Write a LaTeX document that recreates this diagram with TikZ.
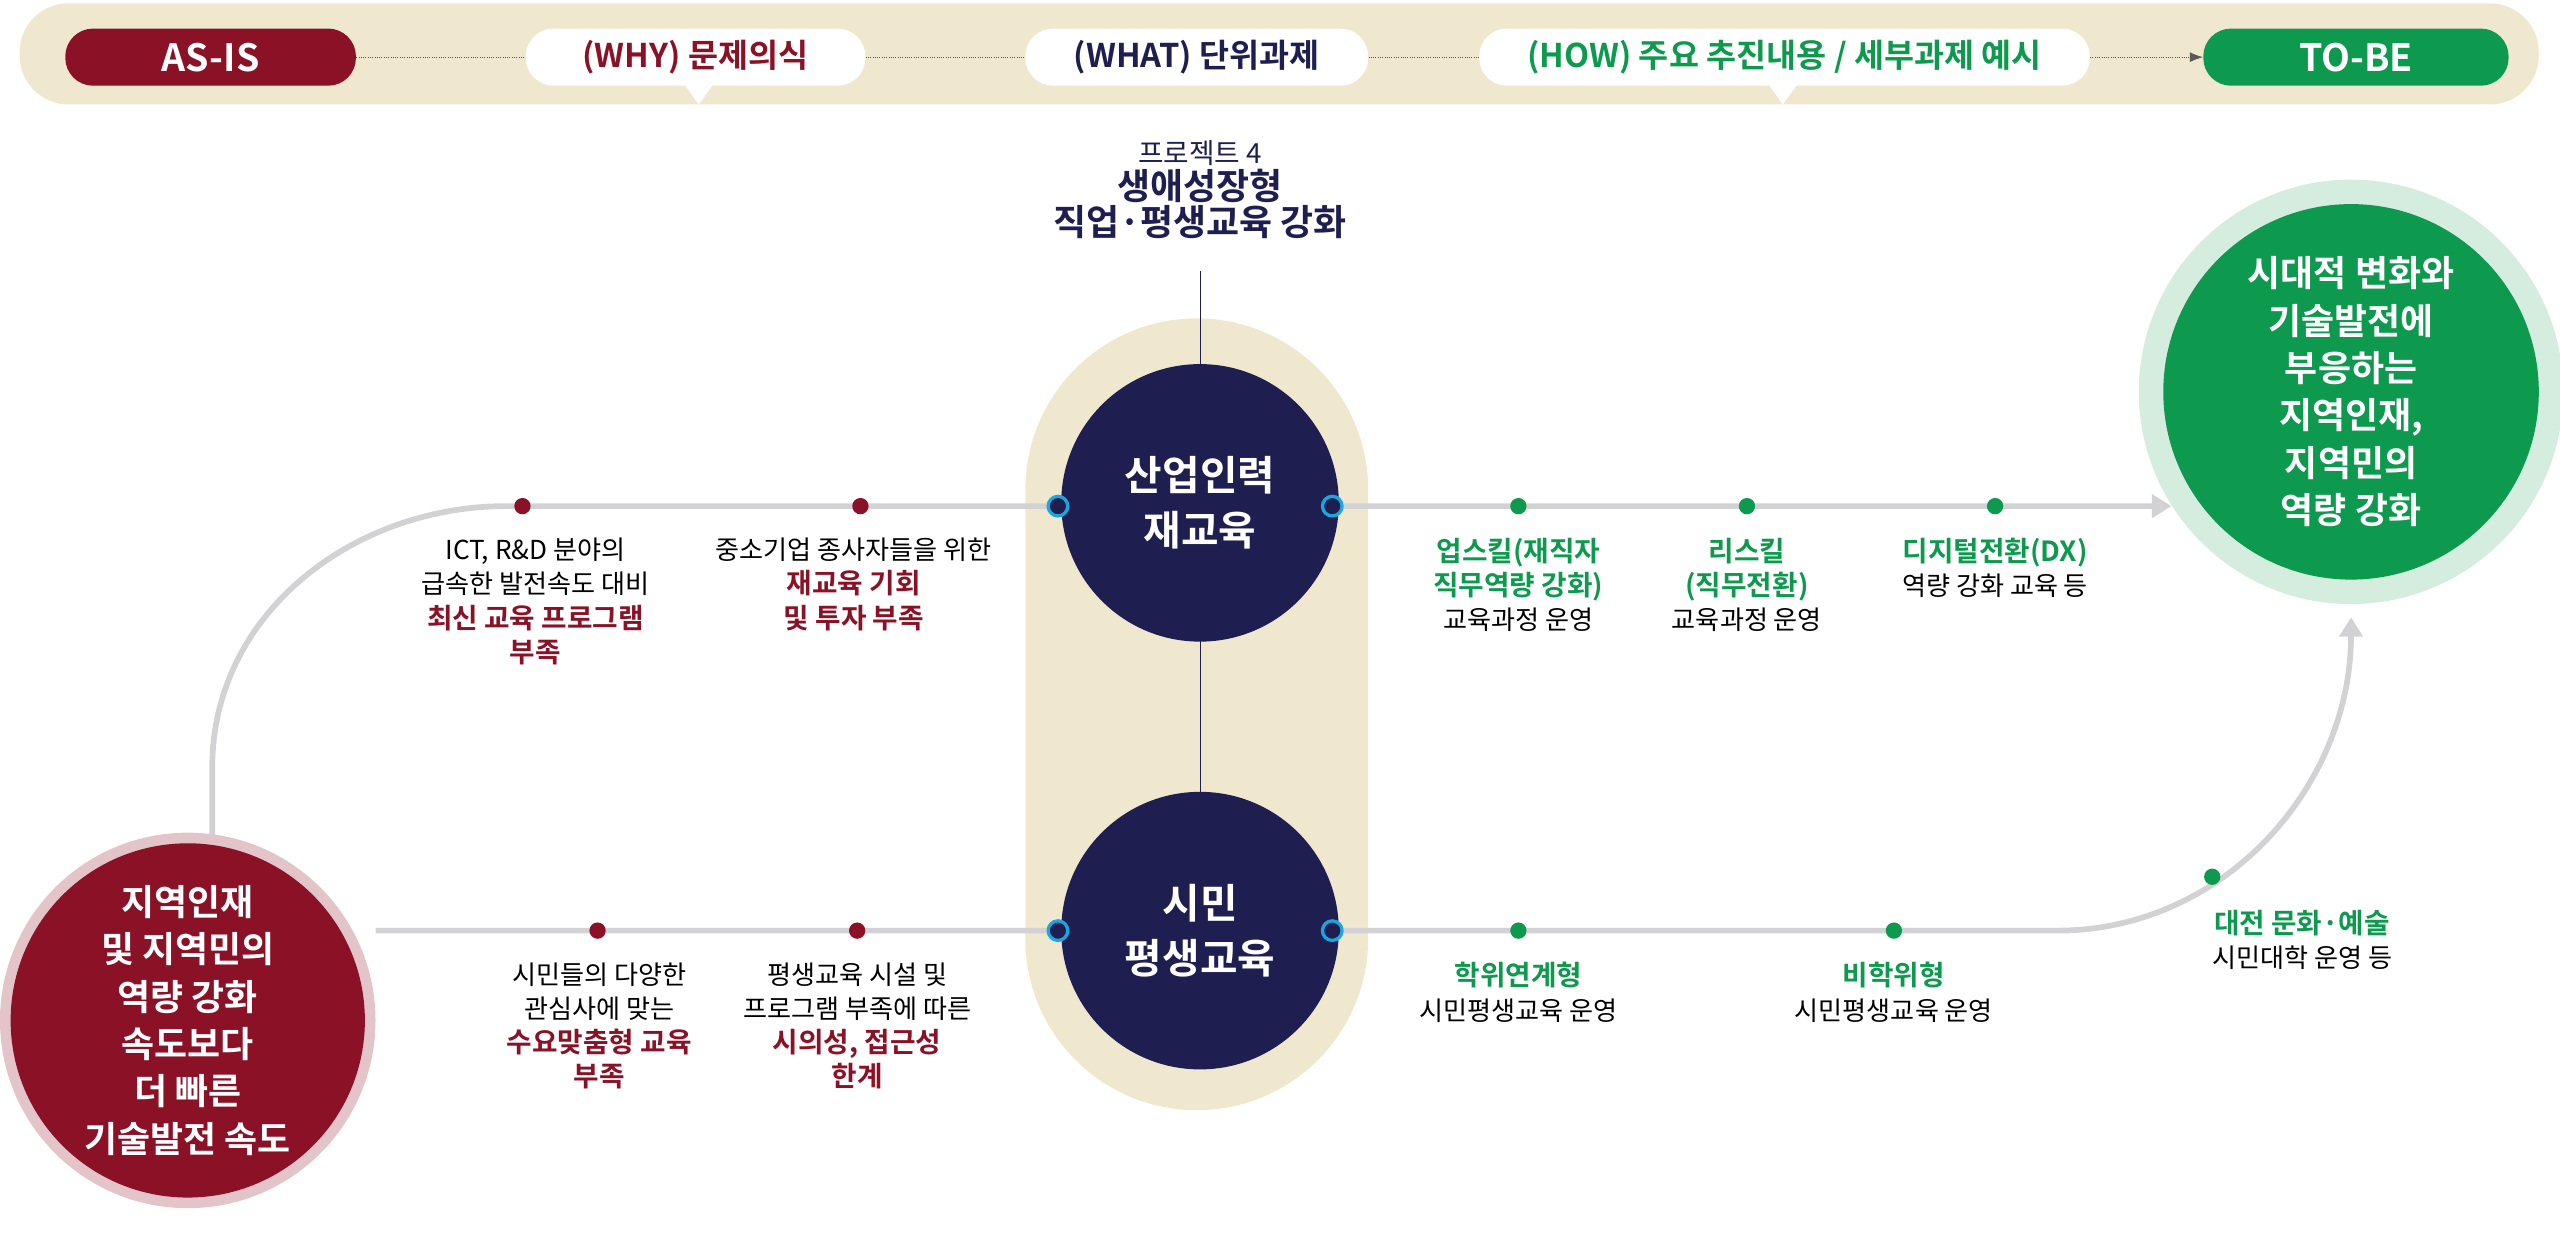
\documentclass[tikz,border=0pt]{standalone}
\usepackage{fontspec}
\setmainfont{Noto Sans CJK KR}
\newfontfamily\bfk{Noto Sans CJK KR Bold}
\usetikzlibrary{arrows.meta}
\definecolor{beige}{HTML}{EFE8CF}
\definecolor{dred}{HTML}{8A1126}
\definecolor{dgreen}{HTML}{0E9A4E}
\definecolor{navy}{HTML}{1E1F50}
\definecolor{lgray}{HTML}{D2D2D4}
\definecolor{cyanb}{HTML}{1AA6E0}
\tikzset{
 pill/.style={rounded corners=17pt,minimum height=35pt,inner sep=0pt,font=\bfk\fontsize{20}{22}\selectfont},
 track/.style={draw=lgray,line width=3.5pt},
 rdot/.style={circle,fill=dred,minimum size=10pt,inner sep=0pt},
 gdot/.style={circle,fill=dgreen,minimum size=10pt,inner sep=0pt},
 cdot/.style={circle,fill=navy,draw=cyanb,line width=2pt,minimum size=12pt,inner sep=0pt},
 lab/.style={align=center,font=\fontsize{16}{21}\selectfont,text=black},
}
\begin{document}
\begin{tikzpicture}[x=1pt,y=-1pt]
\useasboundingbox (0,0) rectangle (1568,761);
% top bar
\fill[beige,rounded corners=30pt] (12,2) rectangle (1555,64);
\fill[white] (418,50) -- (438,50) -- (428,64) -- cycle;
\fill[white] (1082,50) -- (1102,50) -- (1092,64) -- cycle;
\node[pill,fill=dred,text=white,minimum width=178pt,font=\bfk\fontsize{23}{24}\selectfont] (asis) at (129,35) {AS-IS};
\node[pill,fill=white,text=dred,minimum width=208pt] (why) at (426,35) {(WHY) 문제의식};
\node[pill,fill=white,text=navy,minimum width=210pt] (what) at (733,35) {(WHAT) 단위과제};
\node[pill,fill=white,text=dgreen,minimum width=374pt] (how) at (1093,35) {(HOW) 주요 추진내용 / 세부과제 예시};
\node[pill,fill=dgreen,text=white,minimum width=187pt,font=\bfk\fontsize{23}{24}\selectfont] (tobe) at (1443,35) {TO-BE};
\draw[densely dotted,gray!70!black] (asis) -- (why);
\draw[densely dotted,gray!70!black] (why) -- (what);
\draw[densely dotted,gray!70!black] (what) -- (how);
\draw[densely dotted,gray!70!black,-{Latex[length=8pt]}] (how) -- (tobe);
% title
\node[align=center,text=navy,font=\fontsize{17}{22}\selectfont] (title) at (735,116) {프로젝트 4\\{\bfk\fontsize{22}{28}\selectfont 생애성장형}\\{\bfk\fontsize{22}{28}\selectfont 직업·평생교육 강화}};
% capsule
\fill[beige,rounded corners=105pt] (628,195) rectangle (838,680);
\coordinate (vt) at (735,166);
\coordinate (vb) at (735,560);
\draw[navy] (vt) -- (vb);
% tracks
\coordinate (lc) at (130,520);
\coordinate (tr) at (1330,310);
\coordinate (bl) at (230,570);
\coordinate (ra) at (1440,378);
\draw[track,-{Triangle[length=12pt,width=14pt]}] (lc) -- (130,470) to[out=90,in=180] (310,310) -- (tr);
\draw[track,-{Triangle[length=12pt,width=14pt]}] (bl) -- (1260,570) to[out=0,in=270] (ra);
% circles
\fill[dred!25] (115,625) circle (115);
\node[circle,fill=dred,minimum size=200pt,text=white,align=center,font=\bfk\fontsize{22}{29}\selectfont] (asc) at (115,625) {지역인재\\및 지역민의\\역량 강화\\속도보다\\더 빠른\\기술발전 속도};
\fill[dgreen!18] (1440,240) circle (130);
\node[circle,fill=dgreen,minimum size=230pt,text=white,align=center,font=\bfk\fontsize{22}{29}\selectfont] (tbc) at (1440,240) {시대적 변화와\\기술발전에\\부응하는\\지역인재,\\지역민의\\역량 강화};
\node[circle,fill=navy,minimum size=170pt,text=white,align=center,font=\bfk\fontsize{25}{34}\selectfont] (c1) at (735,308) {산업인력\\재교육};
\node[circle,fill=navy,minimum size=170pt,text=white,align=center,font=\bfk\fontsize{25}{34}\selectfont] (c2) at (735,570) {시민\\평생교육};
\draw[navy] (c1) -- (c2);
\node[cdot] at (648,310) {}; \node[cdot] at (816,310) {};
\node[cdot] at (648,570) {}; \node[cdot] at (816,570) {};
% dots
\node[rdot] (d1) at (320,310) {}; \node[rdot] (d2) at (527,310) {};
\node[gdot] (d3) at (930,310) {}; \node[gdot] (d4) at (1070,310) {}; \node[gdot] (d5) at (1222,310) {};
\node[rdot] (d6) at (366,570) {}; \node[rdot] (d7) at (525,570) {};
\node[gdot] (d8) at (930,570) {}; \node[gdot] (d9) at (1160,570) {}; \node[gdot] (d10) at (1355,537) {};
% labels
\node[lab,anchor=north] at (328,326) {ICT, R\&D 분야의\\급속한 발전속도 대비\\{\bfk\color{dred}\fontsize{17}{22}\selectfont 최신 교육 프로그램}\\{\bfk\color{dred}\fontsize{17}{22}\selectfont 부족}};
\node[lab,anchor=north] at (523,326) {중소기업 종사자들을 위한\\{\bfk\color{dred}\fontsize{17}{22}\selectfont 재교육 기회}\\{\bfk\color{dred}\fontsize{17}{22}\selectfont 및 투자 부족}};
\node[lab,anchor=north] at (930,326) {{\bfk\color{dgreen}\fontsize{17}{22}\selectfont 업스킬(재직자}\\{\bfk\color{dgreen}\fontsize{17}{22}\selectfont 직무역량 강화)}\\교육과정 운영};
\node[lab,anchor=north] at (1070,326) {{\bfk\color{dgreen}\fontsize{17}{22}\selectfont 리스킬}\\{\bfk\color{dgreen}\fontsize{17}{22}\selectfont (직무전환)}\\교육과정 운영};
\node[lab,anchor=north] at (1222,326) {{\bfk\color{dgreen}\fontsize{17}{22}\selectfont 디지털전환(DX)}\\역량 강화 교육 등};
\node[lab,anchor=north] at (367,586) {시민들의 다양한\\관심사에 맞는\\{\bfk\color{dred}\fontsize{17}{22}\selectfont 수요맞춤형 교육}\\{\bfk\color{dred}\fontsize{17}{22}\selectfont 부족}};
\node[lab,anchor=north] at (525,586) {평생교육 시설 및\\프로그램 부족에 따른\\{\bfk\color{dred}\fontsize{17}{22}\selectfont 시의성, 접근성}\\{\bfk\color{dred}\fontsize{17}{22}\selectfont 한계}};
\node[lab,anchor=north] at (930,586) {{\bfk\color{dgreen}\fontsize{17}{22}\selectfont 학위연계형}\\시민평생교육 운영};
\node[lab,anchor=north] at (1160,586) {{\bfk\color{dgreen}\fontsize{17}{22}\selectfont 비학위형}\\시민평생교육 운영};
\node[lab,anchor=north] at (1410,554) {{\bfk\color{dgreen}\fontsize{17}{22}\selectfont 대전 문화·예술}\\시민대학 운영 등};
\end{tikzpicture}
\end{document}
